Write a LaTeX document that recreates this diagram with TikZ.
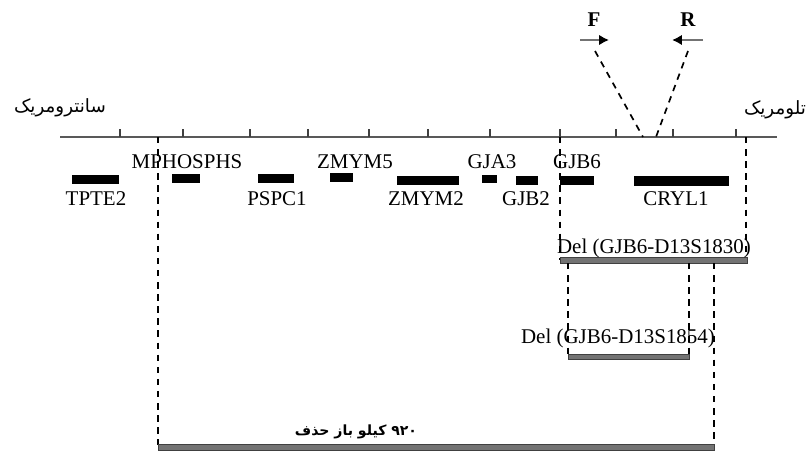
\documentclass[tikz,border=0pt]{standalone}
\usepackage{fontspec}
\setmainfont{Liberation Serif}
\newfontfamily\farsifont[Script=Arabic]{DejaVu Sans}
\TeXXeTstate=1
\usetikzlibrary{arrows.meta}

\begin{document}
\begin{tikzpicture}[x=0.025cm, y=-0.025cm, font=\fontsize{14.9}{16}\selectfont,
    gene/.style={inner sep=0pt},
    genebar/.style={fill=black},
    delbar/.style={draw=black!75, fill=black!55, line width=0.6pt},
    cutline/.style={dash pattern=on 4.6pt off 4pt, line width=1.2pt},
    primer/.style={-{Latex[length=7pt,width=7.5pt,black]}, line width=2pt, black!55}]
    \useasboundingbox (0,0) rectangle (809,453);

    % Chromosome axis
    \coordinate (cen) at (60,137);
    \coordinate (tel) at (777,137);
    \draw[line width=1.8pt, black!65] (cen) -- (tel);
    \foreach \tx in {120,183,250,308,369,428,490,560,616,673,736}
        \draw[line width=1pt, black!75] (\tx,129) -- (\tx,137);
    \node[gene] (centro) at (60,108) {\farsifont\fontsize{13}{15}\selectfont\beginR سانترومریک\endR};
    \node[gene] (telo) at (775,110) {\farsifont\fontsize{13}{15}\selectfont\beginR تلومریک\endR};

    % Genes
    \fill[genebar] (72,175) rectangle (119,184);
    \node[gene] (tpte2) at (96,199) {TPTE2};
    \fill[genebar] (172,174) rectangle (200,183);
    \node[gene] (mphosphs) at (187,162) {MPHOSPHS};
    \fill[genebar] (258,174) rectangle (294,183);
    \node[gene] (pspc1) at (277,199) {PSPC1};
    \fill[genebar] (330,173) rectangle (353,182);
    \node[gene] (zmym5) at (355,162) {ZMYM5};
    \fill[genebar] (397,176) rectangle (459,185);
    \node[gene] (zmym2) at (426,199) {ZMYM2};
    \fill[genebar] (482,175) rectangle (497,183);
    \node[gene] (gja3) at (492,162) {GJA3};
    \fill[genebar] (516,176) rectangle (538,185);
    \node[gene] (gjb2) at (526,199) {GJB2};
    \fill[genebar] (560,176) rectangle (594,185);
    \node[gene] (gjb6) at (577,162) {GJB6};
    \fill[genebar] (634,176) rectangle (729,186);
    \node[gene] (cryl1) at (676,199) {CRYL1};

    % Primers
    \node[gene] (fwd) at (594,20) {\bfseries F};
    \node[gene] (rev) at (688,20) {\bfseries R};
    \draw[primer] (580,40) -- (609,40);
    \draw[primer] (703,40) -- (672,40);
    \coordinate (fcut) at (595,51);
    \coordinate (rcut) at (688,51);
    \coordinate (fend) at (643,137);
    \coordinate (rend) at (656,137);
    \draw[cutline] (fcut) -- (fend);
    \draw[cutline] (rcut) -- (rend);

    % Deletions
    \coordinate (d1a) at (560,137);
    \coordinate (d1b) at (746,137);
    \coordinate (d1l) at (560,260);
    \coordinate (d1r) at (746,260);
    \draw[cutline] (d1a) -- (d1l);
    \draw[cutline] (d1b) -- (d1r);
    \draw[delbar] (560,257) rectangle (747,263);
    \node[gene] (del1) at (654,248) {Del (GJB6-D13S1830)};

    \coordinate (d2a) at (568,263);
    \coordinate (d2b) at (689,263);
    \coordinate (d2l) at (568,355);
    \coordinate (d2r) at (689,355);
    \draw[cutline] (d2a) -- (d2l);
    \draw[cutline] (d2b) -- (d2r);
    \draw[delbar] (568,354) rectangle (689,359);
    \node[gene] (del2) at (618,338) {Del (GJB6-D13S1854)};

    \coordinate (d3a) at (158,137);
    \coordinate (d3b) at (714,263);
    \coordinate (d3l) at (158,445);
    \coordinate (d3r) at (714,445);
    \draw[cutline] (d3a) -- (d3l);
    \draw[cutline] (d3b) -- (d3r);
    \draw[delbar] (158,444) rectangle (714,450);
    \node[gene] (del3) at (356,432) {\farsifont\bfseries\fontsize{10}{12}\selectfont\beginR\beginL ۹۲۰\endL{} کیلو باز حذف\endR};
\end{tikzpicture}
\end{document}
